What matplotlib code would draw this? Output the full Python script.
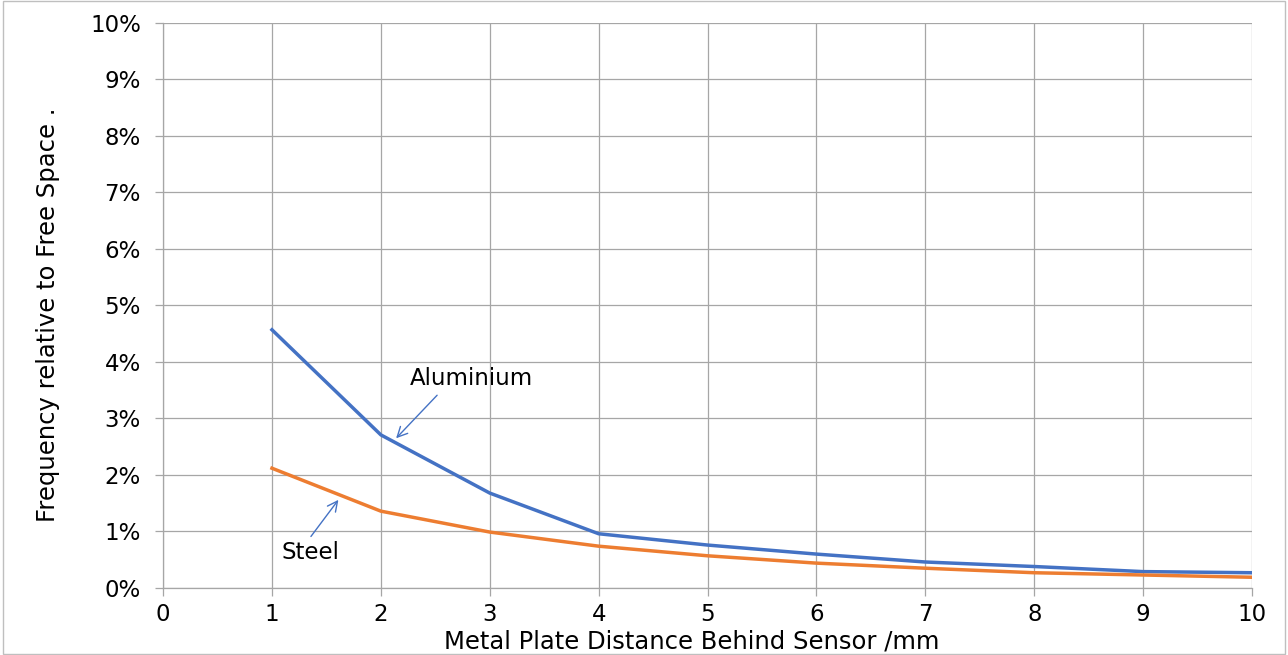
import matplotlib.pyplot as plt
from matplotlib.ticker import PercentFormatter, MultipleLocator
from matplotlib.patches import Rectangle

# distance behind sensor (mm)
distance = [1, 2, 3, 4, 5, 6, 7, 8, 9, 10]
# frequency shift relative to free space (%)
aluminium = [4.57, 2.71, 1.68, 0.96, 0.76, 0.60, 0.46, 0.38, 0.29, 0.27]
steel = [2.12, 1.36, 0.99, 0.74, 0.57, 0.44, 0.35, 0.27, 0.23, 0.19]

blue = '#4472C4'
orange = '#ED7D31'
grid_col = '#a6a6a6'

plt.rcParams['font.family'] = ['DejaVu Sans']

fig = plt.figure(figsize=(12.88, 6.55), dpi=100)
ax = fig.add_axes([0.1266, 0.1023, 0.8455, 0.8626])

ax.plot(distance, aluminium, color=blue, lw=2.5, solid_joinstyle='round')
ax.plot(distance, steel, color=orange, lw=2.5, solid_joinstyle='round')

ax.set_xlim(0, 10)
ax.set_ylim(0, 10)
ax.xaxis.set_major_locator(MultipleLocator(1))
ax.yaxis.set_major_locator(MultipleLocator(1))
ax.yaxis.set_major_formatter(PercentFormatter(decimals=0))
ax.grid(True, color=grid_col, lw=0.9)
ax.set_axisbelow(True)
for s in ['top', 'right']:
    ax.spines[s].set_visible(False)
for s in ['left', 'bottom']:
    ax.spines[s].set_color(grid_col)
    ax.spines[s].set_linewidth(0.9)
ax.tick_params(axis='both', colors=grid_col, length=6, width=0.9, labelcolor='black', labelsize=16.5)
ax.tick_params(axis='x', pad=5)
ax.tick_params(axis='y', pad=10)

ax.set_xlabel('Metal Plate Distance Behind Sensor /mm', fontsize=17.5)
ax.set_ylabel('Frequency relative to Free Space .', fontsize=17.5)
ax.xaxis.set_label_coords(0.485, -0.074)
ax.yaxis.set_label_coords(-0.095, 0.483)

ax.annotate('Aluminium', xy=(2.14, 2.65), xytext=(2.83, 3.7), ha='center', va='center',
            fontsize=16.5, arrowprops=dict(arrowstyle='->', color=blue, lw=1, relpos=(0.26, 0),
                                           shrinkA=2, shrinkB=0, mutation_scale=18))
ax.annotate('Steel', xy=(1.61, 1.56), xytext=(1.35, 0.62), ha='center', va='center',
            fontsize=16.5, arrowprops=dict(arrowstyle='->', color=blue, lw=1, relpos=(0.45, 1),
                                           shrinkA=2, shrinkB=0, mutation_scale=18))

fig.patches.append(Rectangle((0.002, 0.002), 0.996, 0.996, transform=fig.transFigure,
                             fill=False, edgecolor='#bfbfbf', lw=1))

fig.savefig('out.png', dpi=100)
